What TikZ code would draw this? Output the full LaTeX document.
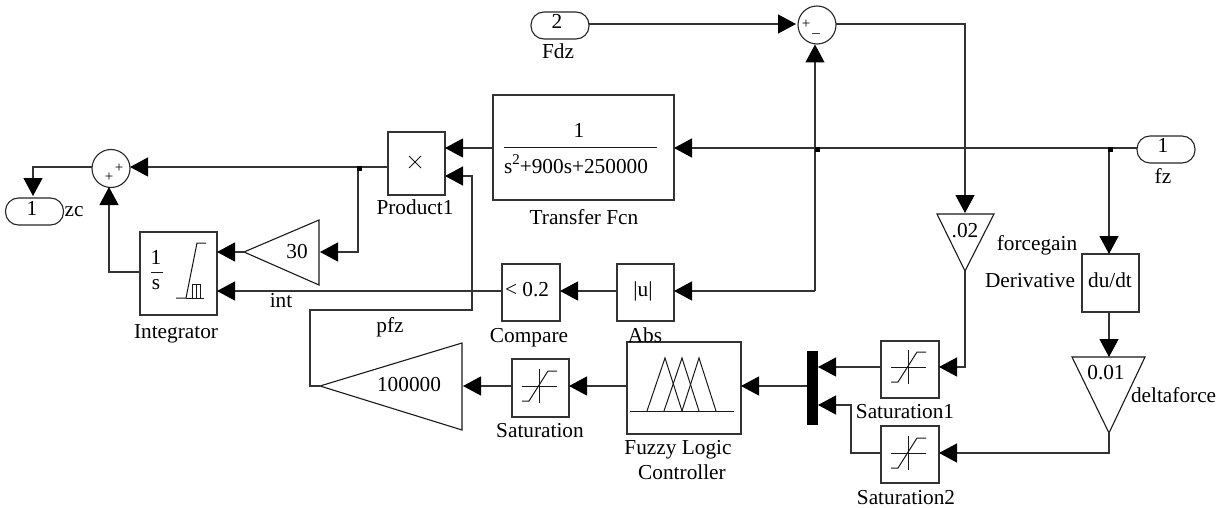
\documentclass[tikz,border=0pt]{standalone}
\usepackage{fontspec}
\setmainfont{Liberation Serif}
\usetikzlibrary{arrows.meta}
\definecolor{wirec}{gray}{0.2}
\tikzset{
  block/.style={draw=wirec,line width=1.2pt,inner sep=0pt,outer sep=0pt,fill=white},
  port/.style={draw=black!85,line width=1.1pt,rectangle,rounded corners=13pt,minimum width=58pt,minimum height=27pt,inner sep=0pt,outer sep=0pt},
  sumc/.style={draw=black!85,line width=1.1pt,circle,minimum size=38pt,inner sep=0pt,outer sep=0pt},
  tri/.style={draw=black!90,line width=1.1pt,line join=miter},
  wire/.style={draw=wirec,line width=1.2pt},
  sig/.style={wire,-{Triangle[length=18pt,width=19pt,color=black,fill=black]}},
  txt/.style={anchor=base,inner sep=0pt,outer sep=0pt,text=black,font=\fontsize{21.3}{25}\selectfont},
  icon/.style={draw=black!90,line width=1pt},
  dotc/.style={fill=black,minimum size=5pt,inner sep=0pt,outer sep=0pt,rectangle},
}
\newcommand{\satsym}[2]{%
  \draw[icon] (#1-17,#2) -- (#1+18,#2) (#1,#2-17) -- (#1,#2+17);
  \draw[icon] (#1-17,#2+15) -- (#1-10,#2+15) -- (#1+9,#2-15) -- (#1+18,#2-15);
}
\begin{document}
\begin{tikzpicture}[x=1pt,y=-1pt]
\useasboundingbox (0,0) rectangle (1221,508);
% Blocks
\node[port] (pfdz) at (560,25.5) {};
\node[port] (pfz) at (1166,149.5) {};
\node[port] (pzc) at (34.5,211.5) {};
\node[sumc] (sa) at (817,25) {};
\node[sumc] (sb) at (111,168.5) {};
\node[block,minimum width=181pt,minimum height=105pt] (tf) at (583.5,147.5) {};
\node[block,minimum width=57pt,minimum height=63pt] (prod) at (416.5,163.5) {};
\node[block,minimum width=77pt,minimum height=83pt] (integ) at (178.5,273.5) {};
\node[block,minimum width=58pt,minimum height=57pt] (comp) at (531,292.5) {};
\node[block,minimum width=57pt,minimum height=57pt] (abs) at (645.5,292.5) {};
\node[block,minimum width=57pt,minimum height=58pt] (deriv) at (1110.5,283) {};
\node[block,minimum width=114pt,minimum height=92pt] (flc) at (684,388) {};
\node[block,minimum width=57pt,minimum height=58pt] (sat) at (540.5,388) {};
\node[block,minimum width=58pt,minimum height=57pt] (sata) at (910,369.5) {};
\node[block,minimum width=58pt,minimum height=57pt] (satb) at (910,454.5) {};
\node[fill=black,minimum width=11pt,minimum height=74pt,inner sep=0pt,outer sep=0pt] (mux) at (812.5,388) {};
% Triangles
\draw[tri] (244,252) coordinate (g3out) -- (319,220) -- (319,285) -- cycle;
\draw[tri] (320,386) coordinate (g1out) -- (462,343) -- (462,430) -- cycle;
\draw[tri] (937,214) -- (994,214) -- (965,271) coordinate (g2out) -- cycle;
\draw[tri] (1072,357) -- (1145,357) -- (1109,433) coordinate (g4out) -- cycle;
% Named connector points
\coordinate (g3in) at (320,252);
\coordinate (g1in) at (463,386);
\coordinate (g2in) at (965,213);
\coordinate (g4in) at (1109,357);
\coordinate (j1) at (815,148);
\coordinate (j2) at (1109,148);
\coordinate (j3) at (358,167);
\coordinate (sain) at (815,44.5);
\coordinate (saleft) at (796,24);
\coordinate (saright) at (836,24);
\coordinate (sbright) at (130,167);
\coordinate (sbleft) at (92,167);
\coordinate (sbbot) at (109,187);
\coordinate (zctop) at (33,196);
\coordinate (tfout) at (493,148);
\coordinate (tfin) at (674,148);
\coordinate (prodin) at (445,148);
\coordinate (prodinb) at (445,176);
\coordinate (prodout) at (388,167);
\coordinate (intina) at (217,252);
\coordinate (intinb) at (217,291);
\coordinate (intout) at (140,272);
\coordinate (compin) at (560,291);
\coordinate (compout) at (502,291);
\coordinate (absin) at (674,291);
\coordinate (absout) at (617,291);
\coordinate (sataout) at (881,367);
\coordinate (satain) at (939,367);
\coordinate (satbout) at (881,453);
\coordinate (satbin) at (939,453);
\coordinate (muxa) at (818,367);
\coordinate (muxb) at (818,405);
\coordinate (muxout) at (807,386);
\coordinate (flcin) at (741,386);
\coordinate (flcout) at (627,386);
\coordinate (satin) at (569,386);
\coordinate (satout) at (512,386);
% Connectors
\draw[sig] (pfdz.east |- saleft) -- (saleft);
\draw[sig] (saright) -| (g2in);
\draw[wire] (pfz.west |- tfin) -- (j2);
\draw[sig] (j1) -- (tfin);
\draw[wire] (j2) -- (j1);
\draw[sig] (tfout) -- (prodin);
\draw[sig] (prodout) -- (sbright);
\draw[sig] (sbleft) -| (zctop);
\draw[sig] (j3) |- (g3in);
\draw[sig] (g3out) -- (intina);
\draw[sig] (intout) -| (sbbot);
\draw[sig] (compout) -- (intinb);
\draw[sig] (absout) -- (compin);
\draw[sig] (j1 |- absin) -- (absin);
\draw[sig] (j1 |- absin) -- (sain);
\draw[sig] (j2) -- (deriv.north -| j2);
\draw[sig] (deriv.south -| j2) -- (g4in);
\draw[sig] (g2out) |- (satain);
\draw[sig] (g4out) |- (satbin);
\draw[sig] (sataout) -- (muxa);
\draw[sig] (satbout) -- (851,453) |- (muxb);
\draw[sig] (muxout) -- (flcin);
\draw[sig] (flcout) -- (satin);
\draw[sig] (satout) -- (g1in);
\draw[sig] (g1out) -- (310,386) |- (472,310) |- (prodinb);
\node[dotc] (dota) at (817,150) {};
\node[dotc] (dotb) at (1110.5,150) {};
\node[dotc] (dotc) at (359.5,169) {};
% Icons
\satsym{539}{386}
\satsym{908}{367}
\satsym{908}{453}
\draw[icon] (630,411) -- (734,411);
\draw[icon] (647,411) -- (665,358) -- (682,411);
\draw[icon] (664,411) -- (682,358) -- (699,411);
\draw[icon] (682,411) -- (699,358) -- (716,411);
\draw[icon] (176,298) -- (186,298) -- (197,243) -- (206,243);
\draw[icon] (186,298) -- (204,298);
\draw[icon] (192,298) -- (192,284) -- (200,284) -- (200,298) (196,284) -- (196,298);
\draw[icon] (151,272) -- (163,272);
\draw[icon] (504,148) -- (657,148);
\draw[icon] (409,156) -- (421,168) (421,156) -- (409,168);
% Texts
\node[txt] (t1) at (32,215) {1};
\node[txt] (t2) at (74,216) {zc};
\node[txt] (t3) at (557,29) {2};
\node[txt] (t4) at (558,59) {Fdz};
\node[txt] (t5) at (1163,153) {1};
\node[txt] (t6) at (1163,183) {fz};
\node[txt] (t7) at (579,138) {1};
\node[txt,anchor=base west] (t8) at (504,174) {s\raisebox{0.45em}{\fontsize{15}{15}\selectfont 2}+900s+250000};
\node[txt] (t9) at (584,224) {Transfer Fcn};
\node[txt] (t10) at (415,214) {Product1};
\node[txt] (t11) at (297,258) {30};
\node[txt] (t12) at (156,264) {1};
\node[txt] (t13) at (156,289) {s};
\node[txt] (t14) at (176,338) {Integrator};
\node[txt] (t15) at (281,307) {int};
\node[txt] (t16) at (390,332) {pfz};
\node[txt] (t17) at (527,296) {< 0.2};
\node[txt] (t18) at (529,342) {Compare};
\node[txt] (t19) at (643,296) {|u|};
\node[txt] (t20) at (645,342) {Abs};
\node[txt] (t21) at (409,391) {100000};
\node[txt] (t22) at (540,437) {Saturation};
\node[txt] (t23) at (678,454) {Fuzzy Logic};
\node[txt] (t24) at (682,479) {Controller};
\node[txt] (t25) at (905,418) {Saturation1};
\node[txt] (t26) at (906,504) {Saturation2};
\node[txt] (t27) at (965,237) {.02};
\node[txt] (t28) at (1037,250) {forcegain};
\node[txt,anchor=base east] (t29) at (1075,287) {Derivative};
\node[txt] (t30) at (1110,287) {du/dt};
\node[txt] (t31) at (1106,379) {0.01};
\node[txt,anchor=base west] (t32) at (1131,402) {deltaforce};
\node[txt,font=\fontsize{15}{15}\selectfont] (t33) at (806,29) {+};
\node[txt,font=\fontsize{15}{15}\selectfont] (t34) at (816,33) {\_};
\node[txt,font=\fontsize{15}{15}\selectfont] (t35) at (119,172) {+};
\node[txt,font=\fontsize{15}{15}\selectfont] (t36) at (109,182) {+};
\end{tikzpicture}
\end{document}
